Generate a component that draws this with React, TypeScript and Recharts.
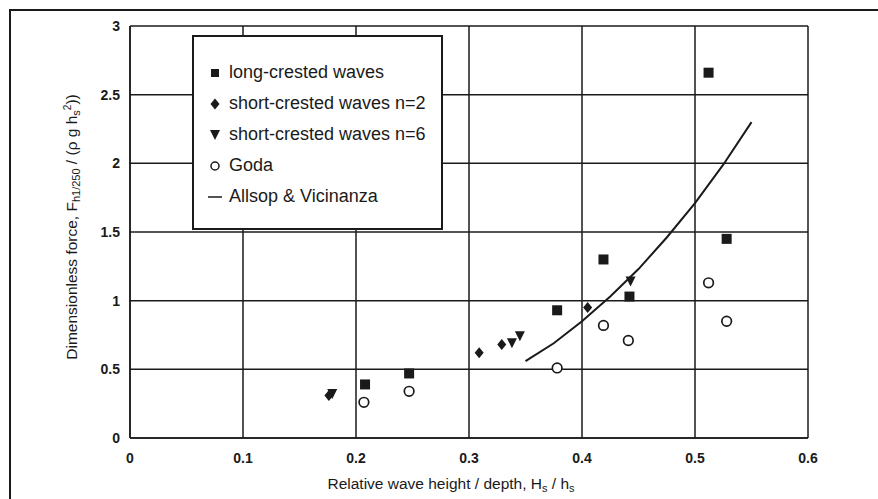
import React from "react";
import { ScatterChart, Scatter, XAxis, YAxis, CartesianGrid } from "recharts";

// relative wave height Hs/hs vs dimensionless force
const longCrested = [
  { x: 0.208, y: 0.39 },
  { x: 0.247, y: 0.47 },
  { x: 0.378, y: 0.93 },
  { x: 0.419, y: 1.3 },
  { x: 0.442, y: 1.03 },
  { x: 0.512, y: 2.66 },
  { x: 0.528, y: 1.45 },
];

const shortN2 = [
  { x: 0.176, y: 0.31 },
  { x: 0.309, y: 0.62 },
  { x: 0.329, y: 0.68 },
  { x: 0.405, y: 0.95 },
];

const shortN6 = [
  { x: 0.179, y: 0.32 },
  { x: 0.338, y: 0.69 },
  { x: 0.345, y: 0.74 },
  { x: 0.443, y: 1.14 },
];

const goda = [
  { x: 0.207, y: 0.26 },
  { x: 0.247, y: 0.34 },
  { x: 0.378, y: 0.51 },
  { x: 0.419, y: 0.82 },
  { x: 0.441, y: 0.71 },
  { x: 0.512, y: 1.13 },
  { x: 0.528, y: 0.85 },
];

const allsop = [
  { x: 0.35, y: 0.56 },
  { x: 0.375, y: 0.69 },
  { x: 0.4, y: 0.85 },
  { x: 0.425, y: 1.03 },
  { x: 0.45, y: 1.23 },
  { x: 0.475, y: 1.46 },
  { x: 0.5, y: 1.71 },
  { x: 0.525, y: 1.99 },
  { x: 0.55, y: 2.3 },
];

const xTicks = [0, 0.1, 0.2, 0.3, 0.4, 0.5, 0.6];
const yTicks = [0, 0.5, 1, 1.5, 2, 2.5, 3];

const legendItems = [
  { key: "square", label: "long-crested waves" },
  { key: "diamond", label: "short-crested waves n=2" },
  { key: "triangle", label: "short-crested waves n=6" },
  { key: "circle", label: "Goda" },
  { key: "line", label: "Allsop & Vicinanza" },
];

const INK = "#1a1a1a";
const FONT = "'Liberation Sans', Arial, Helvetica, sans-serif";

const Square = (p: any) => (
  <rect x={p.cx - 5} y={p.cy - 5} width={10} height={10} fill={INK} />
);
const Diamond = (p: any) => (
  <polygon
    points={`${p.cx},${p.cy - 5.5} ${p.cx + 4.5},${p.cy} ${p.cx},${p.cy + 5.5} ${p.cx - 4.5},${p.cy}`}
    fill={INK}
  />
);
const TriDown = (p: any) => (
  <polygon
    points={`${p.cx - 5},${p.cy - 5} ${p.cx + 5},${p.cy - 5} ${p.cx},${p.cy + 5}`}
    fill={INK}
  />
);
const Ring = (p: any) => (
  <circle cx={p.cx} cy={p.cy} r={4.8} fill="white" stroke={INK} strokeWidth={1.7} />
);
const NoDot = () => null;

function LegendIcon({ kind }: { kind: string }) {
  const c = { cx: 8, cy: 8 };
  return (
    <svg width={16} height={16} style={{ marginRight: 6 }}>
      {kind === "square" && <rect x={4} y={4} width={8} height={8} fill={INK} />}
      {kind === "diamond" && <Diamond {...c} />}
      {kind === "triangle" && <TriDown {...c} />}
      {kind === "circle" && <circle cx={8} cy={8} r={4} fill="white" stroke={INK} strokeWidth={1.5} />}
      {kind === "line" && <line x1={1} y1={8} x2={15} y2={8} stroke={INK} strokeWidth={1.5} />}
    </svg>
  );
}

const YLabel = () => (
  <text
    x={73}
    y={227}
    transform="rotate(-90 73 227)"
    textAnchor="middle"
    dominantBaseline="middle"
    fontFamily={FONT}
    fontSize={15.5}
    fill={INK}
  >
    Dimensionless force, F
    <tspan fontSize={11} dy={4}>h1/250</tspan>
    <tspan dy={-4}> / (ρ g h</tspan>
    <tspan fontSize={11} dy={4}>s</tspan>
    <tspan fontSize={10} dy={-9}>2</tspan>
    <tspan dy={5}>))</tspan>
  </text>
);

const XLabel = () => (
  <text x={451} y={489} textAnchor="middle" fontFamily={FONT} fontSize={15.5} fill={INK}>
    Relative wave height / depth, H
    <tspan fontSize={11} dy={3}>s</tspan>
    <tspan dy={-3}> / h</tspan>
    <tspan fontSize={11} dy={3}>s</tspan>
  </text>
);

export default function App() {
  return (
    <div style={{ position: "absolute", left: 0, top: 0, width: 878, height: 499, background: "white" }}>
      <div
        style={{
          position: "absolute",
          left: 9,
          top: 9,
          right: 0,
          bottom: 0,
          borderTop: `2px solid ${INK}`,
          borderLeft: `2px solid ${INK}`,
        }}
      />
      <ScatterChart
        width={878}
        height={499}
        margin={{ top: 26, right: 70, left: 0, bottom: 0 }}
        style={{ position: "absolute", left: 0, top: 0 }}
      >
        <CartesianGrid stroke={INK} strokeWidth={1.5} />
        <XAxis
          type="number"
          dataKey="x"
          domain={[0, 0.6]}
          ticks={xTicks}
          height={61}
          tickLine={false}
          tickSize={8}
          tickMargin={7}
          axisLine={{ stroke: INK, strokeWidth: 1.5 }}
          tick={{ fill: INK, fontSize: 14, fontWeight: "bold", fontFamily: FONT }}
          tickFormatter={(v: number) => (v === 0 ? "0" : String(v))}
          label={<XLabel />}
        />
        <YAxis
          type="number"
          dataKey="y"
          domain={[0, 3]}
          ticks={yTicks}
          width={130}
          tickLine={false}
          tickSize={4}
          tickMargin={6}
          axisLine={{ stroke: INK, strokeWidth: 1.5 }}
          tick={{ fill: INK, fontSize: 14, fontWeight: "bold", fontFamily: FONT }}
          label={<YLabel />}
        />
        <Scatter name="Allsop & Vicinanza" data={allsop} line={{ stroke: INK, strokeWidth: 2 }} lineType="joint" shape={NoDot} isAnimationActive={false} />
        <Scatter name="long-crested waves" data={longCrested} shape={Square} isAnimationActive={false} />
        <Scatter name="short-crested waves n=2" data={shortN2} shape={Diamond} isAnimationActive={false} />
        <Scatter name="short-crested waves n=6" data={shortN6} shape={TriDown} isAnimationActive={false} />
        <Scatter name="Goda" data={goda} shape={Ring} isAnimationActive={false} />
      </ScatterChart>
      <div
        style={{
          position: "absolute",
          left: 192,
          top: 35,
          width: 251,
          height: 195,
          background: "white",
          border: `2px solid ${INK}`,
          fontFamily: FONT,
          fontSize: 18,
          color: INK,
          paddingTop: 20,
          paddingLeft: 13,
          boxSizing: "border-box",
        }}
      >
        {legendItems.map((it) => (
          <div key={it.key} style={{ display: "flex", alignItems: "center", height: 31 }}>
            <LegendIcon kind={it.key} />
            <span>{it.label}</span>
          </div>
        ))}
      </div>
    </div>
  );
}
